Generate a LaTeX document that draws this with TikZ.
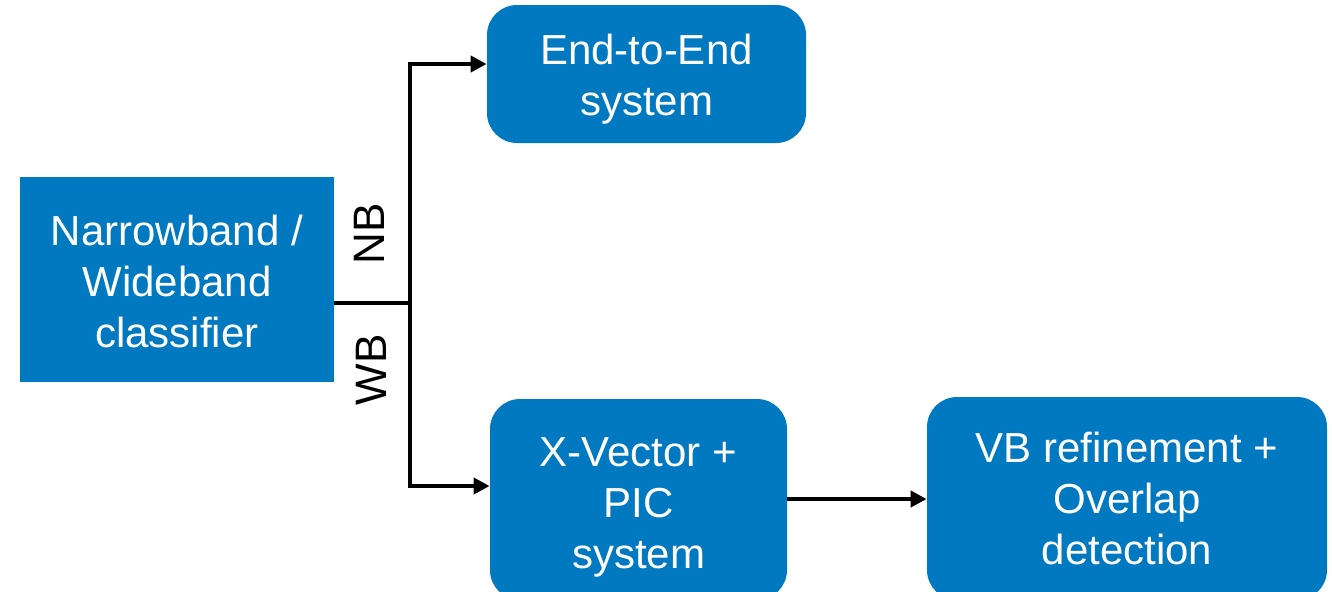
\documentclass[tikz,border=0pt]{standalone}
\usepackage{fontspec}
\setmainfont{Liberation Sans}
\usetikzlibrary{arrows.meta}
\definecolor{boxblue}{HTML}{0079C1}
% raises the first line of a block, pushing the centred text down a little
\newcommand{\topgap}[1]{\rule{0pt}{#1}}
\begin{document}
\begin{tikzpicture}[x=0.5pt,y=-0.5pt,
  box/.style={fill=boxblue,text=white,align=center,inner sep=0pt,
    font=\fontsize{21}{25.5}\selectfont},
  rbox/.style={box,rounded corners=15pt},
  conn/.style={line width=2.4pt,line join=miter},
  arr/.style={conn,-{Triangle[length=8pt,width=8pt]}},
  lbl/.style={rotate=90,font=\fontsize{22}{26}\selectfont,inner sep=0pt}]
\useasboundingbox (0,0) rectangle (1332,591);

% processing blocks
\node[box,minimum width=157pt,minimum height=102.5pt] (cls) at (177,279.5)
  {\topgap{17pt}Narrowband /\\Wideband\\classifier};
\node[rbox,minimum width=159.5pt,minimum height=69pt] (e2e) at (646.5,74)
  {\topgap{20pt}End-to-End\\system};
\node[rbox,minimum width=148.5pt,minimum height=100.5pt] (xv) at (638.5,499.5)
  {\topgap{22pt}X-Vector +\\PIC\\system};
\node[rbox,minimum width=200pt,minimum height=101.5pt] (vb) at (1127,498.5)
  {VB refinement +\\Overlap\\detection};

% branching connector
\coordinate (j) at (410,303);
\coordinate (jt) at (410,64);
\coordinate (jb) at (410,486);
\coordinate (m) at (850,499);
\draw[conn] (cls.east |- j) -- (j);
\draw[arr] (j) -- (jt) -- (jt -| e2e.west);
\draw[arr] (j) -- (jb) -- (jb -| xv.west);
\draw[arr] (m -| xv.east) -- (m -| vb.west);

% branch labels
\node[lbl] (nb) at (369,234) {NB};
\node[lbl] (wb) at (371,370) {WB};
\end{tikzpicture}
\end{document}
